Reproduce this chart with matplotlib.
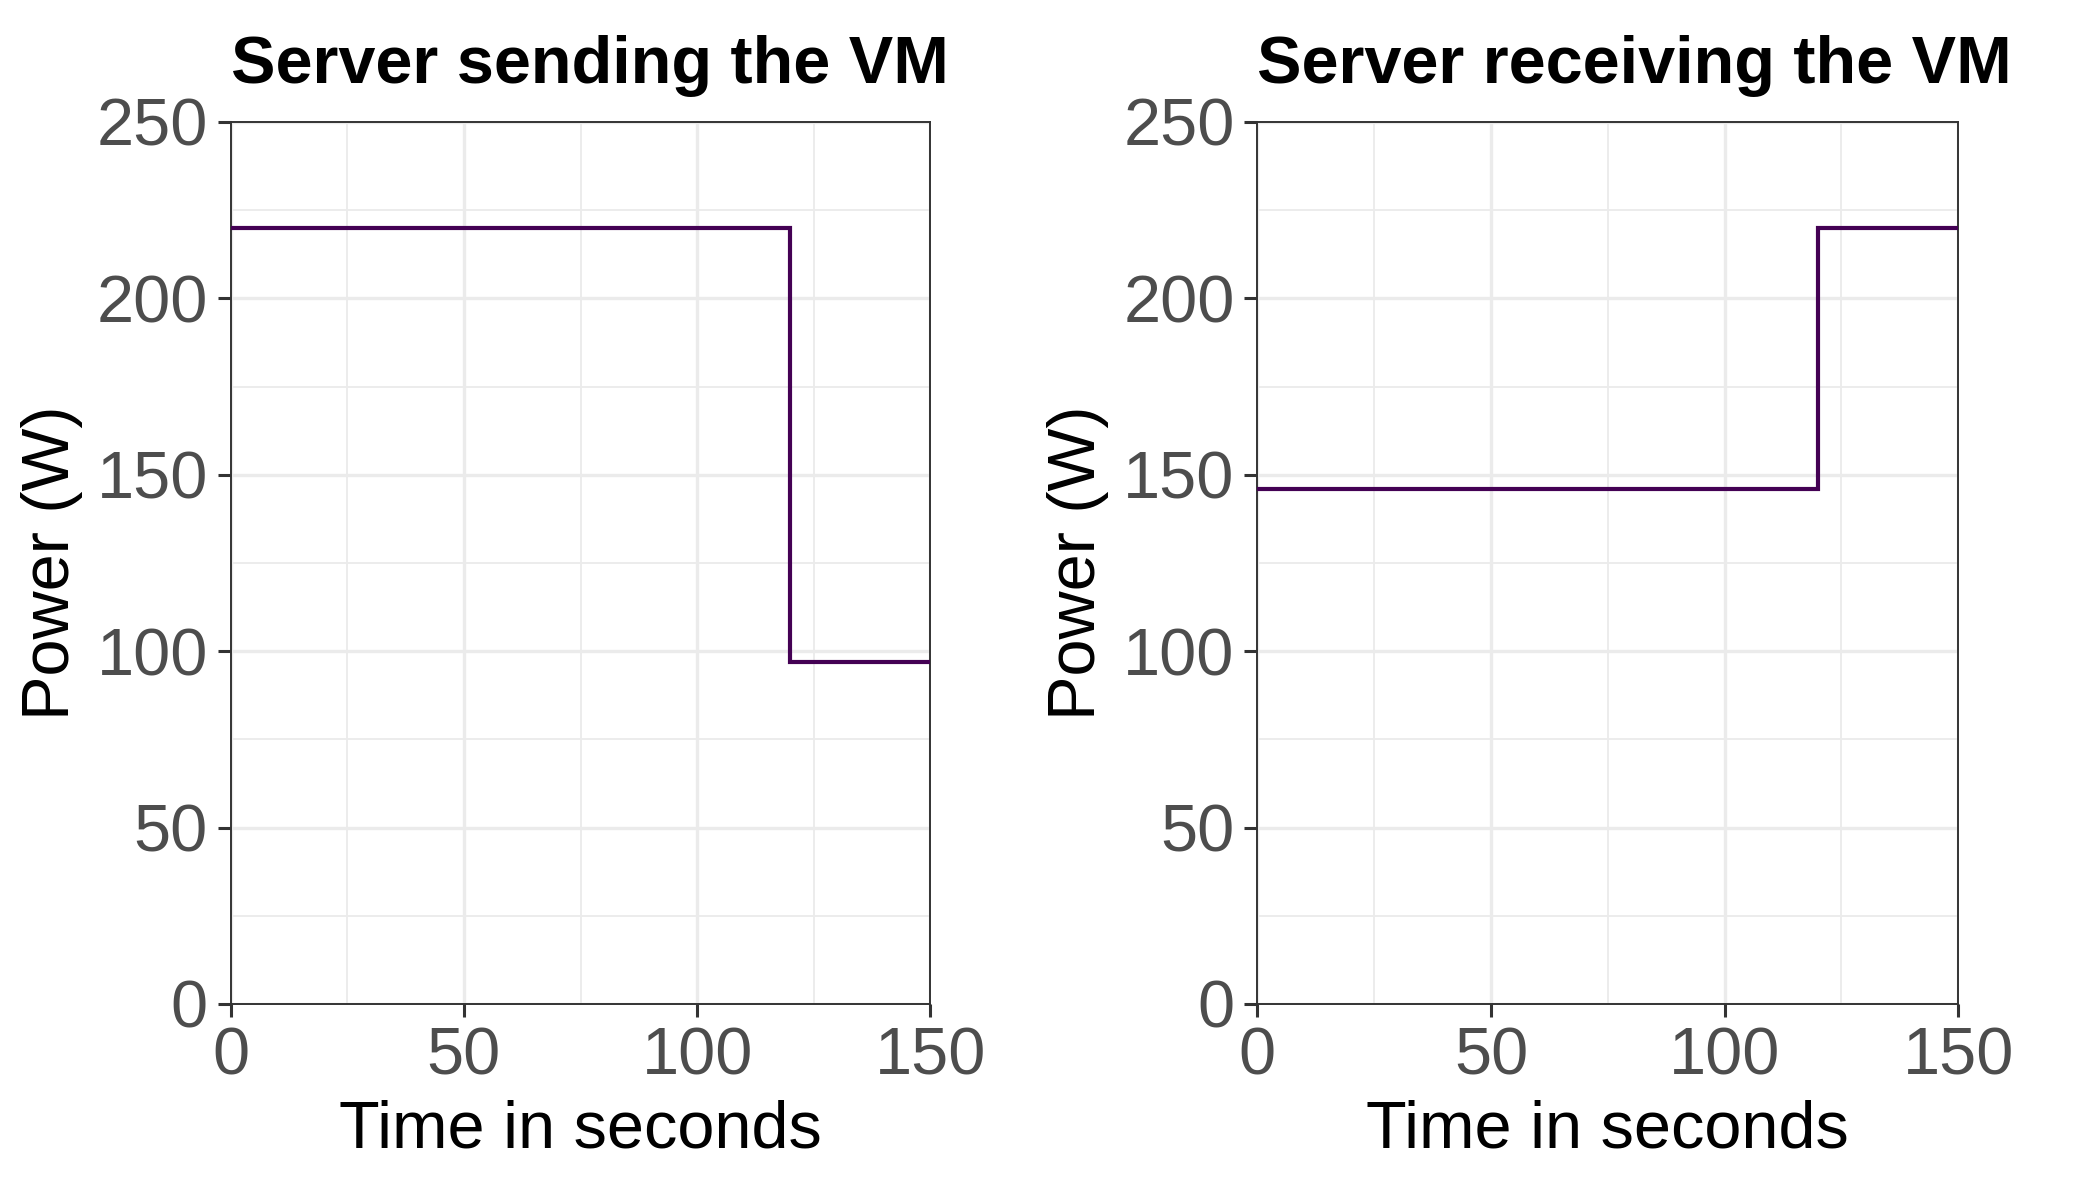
import matplotlib
matplotlib.use("Agg")
import matplotlib.pyplot as plt
from matplotlib.ticker import MultipleLocator

plt.rcParams['font.family'] = ['Liberation Sans', 'DejaVu Sans']

# Data
time_points = [0, 120, 150]
sending_power = [220, 97, 97]
receiving_power = [146, 220, 220]
titles = ["Server sending the VM", "Server receiving the VM"]
x_ticks = [0, 50, 100, 150]
y_ticks = [0, 50, 100, 150, 200, 250]

LINE_COLOR = "#440154"
AX_COLOR = "#333333"
TICK_LABEL_COLOR = "#4D4D4D"
GRID_COLOR = "#EBEBEB"

fig = plt.figure(figsize=(21, 12), dpi=100)
positions = [
    [230.7 / 2100, 1 - 1004 / 1200, (930.3 - 230.7) / 2100, (1004 - 122) / 1200],
    [1257.3 / 2100, 1 - 1004 / 1200, (1958.3 - 1257.3) / 2100, (1004 - 122) / 1200],
]

for pos, series, title in zip(positions, [sending_power, receiving_power], titles):
    ax = fig.add_axes(pos)
    ax.plot(time_points, series, drawstyle="steps-post", color=LINE_COLOR,
            linewidth=3.0, solid_joinstyle="miter", zorder=3)
    ax.set_xlim(0, 150)
    ax.set_ylim(0, 250)
    ax.set_xticks(x_ticks)
    ax.set_yticks(y_ticks)
    ax.xaxis.set_minor_locator(MultipleLocator(25))
    ax.yaxis.set_minor_locator(MultipleLocator(25))
    ax.grid(which="major", color=GRID_COLOR, linewidth=2.4, zorder=0)
    ax.grid(which="minor", color=GRID_COLOR, linewidth=1.3, zorder=0)
    ax.set_axisbelow(True)
    for s in ax.spines.values():
        s.set_color(AX_COLOR)
        s.set_linewidth(1.4)
    ax.tick_params(which="major", length=9.4, width=2.2, color=AX_COLOR,
                   labelsize=48, labelcolor=TICK_LABEL_COLOR, pad=7)
    ax.tick_params(which="minor", length=0)
    ax.set_xlabel("Time in seconds", fontsize=48, color="black", labelpad=8)
    ax.set_ylabel("Power (W)", fontsize=48, color="black", labelpad=10)
    ax.set_title(title, fontsize=48, fontweight="bold", loc="left", pad=28)

fig.savefig("out.png", dpi=100, facecolor="white")
